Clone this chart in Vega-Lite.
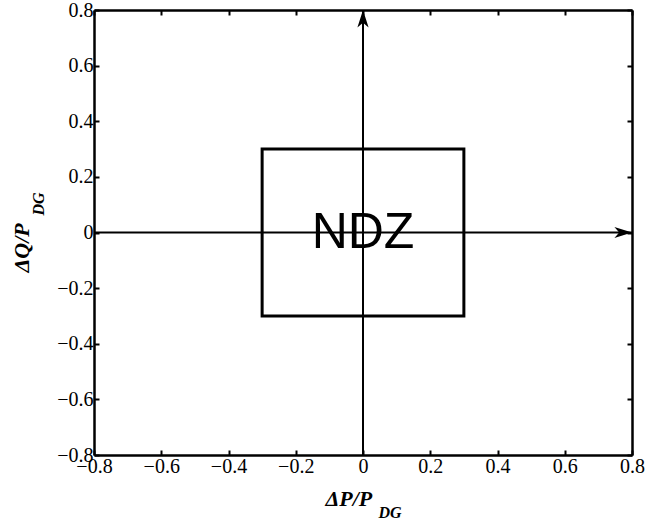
{
  "$schema": "https://vega.github.io/schema/vega-lite/v6.json",
  "width": 538,
  "height": 445,
  "autosize": "none",
  "padding": {"left": 94, "top": 10, "right": 13, "bottom": 68},
  "background": "white",
  "config": {
    "view": {"stroke": null},
    "axis": {
      "grid": false,
      "domainColor": "black",
      "domainWidth": 2.5,
      "tickColor": "black",
      "tickWidth": 2,
      "tickSize": -5,
      "labelFont": "Liberation Serif",
      "labelFontSize": 20,
      "labelColor": "black",
      "labelPadding": 6,
      "labelOverlap": false,
      "labelFlush": false,
      "labelBound": false,
      "titleColor": "black",
      "titleFont": "Liberation Serif",
      "titleFontWeight": "bold",
      "titleFontStyle": "italic"
    }
  },
  "datasets": {
    "box": [{"x1": -0.3, "x2": 0.3, "y1": -0.3, "y2": 0.3}],
    "lines": [
      {"x1": 0, "x2": 0, "y1": -0.8, "y2": 0.8},
      {"x1": -0.8, "x2": 0.8, "y1": 0, "y2": 0}
    ],
    "arrows": [
      {"x": 0, "y": 0.8, "dir": "up"},
      {"x": 0.8, "y": 0, "dir": "right"}
    ],
    "label": [{"x": 0, "y": 0, "t": "NDZ"}]
  },
  "layer": [
    {
      "data": {"name": "box"},
      "mark": {"type": "rect", "filled": false, "stroke": "black", "strokeWidth": 3},
      "encoding": {
        "x": {
          "field": "x1", "type": "quantitative",
          "scale": {"domain": [-0.8, 0.8], "nice": false, "zero": false},
          "axis": {
            "orient": "bottom",
            "values": [-0.8, -0.6, -0.4, -0.2, 0, 0.2, 0.4, 0.6, 0.8],
            "format": ".1~f",
            "title": "ΔP/P",
            "titleFontSize": 22,
            "titleAlign": "left",
            "titleBaseline": "alphabetic",
            "titleX": 231,
            "titleY": 50
          }
        },
        "x2": {"field": "x2"},
        "y": {
          "field": "y1", "type": "quantitative",
          "scale": {"domain": [-0.8, 0.8], "nice": false, "zero": false},
          "axis": {
            "orient": "left",
            "values": [-0.8, -0.6, -0.4, -0.2, 0, 0.2, 0.4, 0.6, 0.8],
            "format": ".1~f",
            "title": "ΔQ/P",
            "titleFontSize": 22,
            "titleAngle": 270,
            "titleAlign": "left",
            "titleBaseline": "alphabetic",
            "titleX": -66,
            "titleY": 262
          }
        },
        "y2": {"field": "y2"}
      }
    },
    {
      "data": {"name": "lines"},
      "mark": {"type": "rule", "color": "black", "strokeWidth": 2},
      "encoding": {
        "x": {
          "field": "x1", "type": "quantitative",
          "axis": {
            "orient": "top",
            "values": [-0.8, -0.6, -0.4, -0.2, 0, 0.2, 0.4, 0.6, 0.8],
            "labels": false,
            "title": "DG",
            "titleFontSize": 16,
            "titleAlign": "left",
            "titleBaseline": "alphabetic",
            "titleX": 284,
            "titleY": 507
          }
        },
        "x2": {"field": "x2"},
        "y": {
          "field": "y1", "type": "quantitative",
          "axis": {
            "orient": "right",
            "values": [-0.8, -0.6, -0.4, -0.2, 0, 0.2, 0.4, 0.6, 0.8],
            "labels": false,
            "title": "DG",
            "titleFontSize": 16,
            "titleAngle": 270,
            "titleAlign": "left",
            "titleBaseline": "alphabetic",
            "titleX": -589,
            "titleY": 205
          }
        },
        "y2": {"field": "y2"}
      }
    },
    {
      "data": {"name": "arrows"},
      "mark": {"type": "point", "filled": true, "color": "black", "opacity": 1, "size": 256, "strokeWidth": 0},
      "encoding": {
        "x": {"field": "x", "type": "quantitative", "axis": null},
        "y": {"field": "y", "type": "quantitative", "axis": null},
        "shape": {
          "field": "dir", "type": "nominal", "legend": null,
          "scale": {
            "domain": ["up", "right"],
            "range": ["M0,0L-0.7,2.2L0,1.6L0.7,2.2Z", "M0,0L-2.2,-0.7L-1.6,0L-2.2,0.7Z"]
          }
        }
      }
    },
    {
      "data": {"name": "label"},
      "mark": {"type": "text", "font": "Liberation Sans", "fontSize": 50, "align": "center", "baseline": "middle", "color": "black"},
      "encoding": {
        "x": {"field": "x", "type": "quantitative", "axis": null},
        "y": {"field": "y", "type": "quantitative", "axis": null},
        "text": {"field": "t"}
      }
    }
  ],
  "resolve": {"axis": {"x": "independent", "y": "independent"}}
}
